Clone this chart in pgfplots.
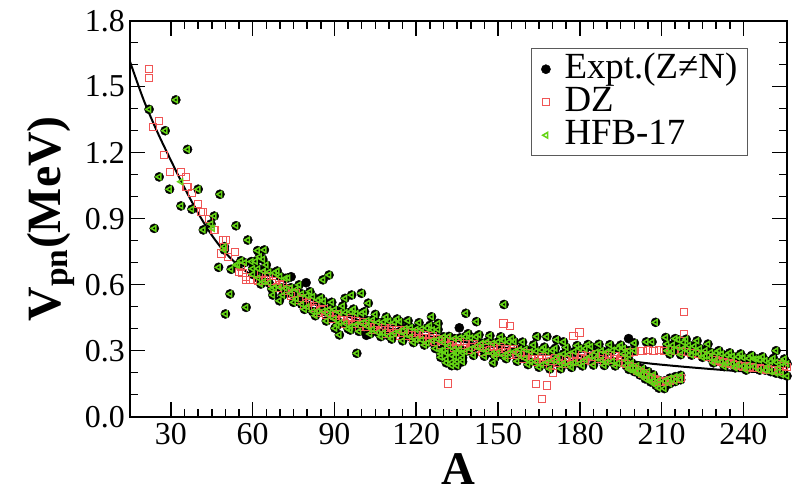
\documentclass[border=0pt]{standalone}
\usepackage{pgfplots}
\usepackage{pgfplotstable}
\pgfplotsset{compat=1.18}
\usepackage{fontspec}
\setmainfont{Liberation Serif}
\definecolor{dzred}{RGB}{240,85,85}
\definecolor{hfbgreen}{RGB}{100,212,20}

% band of experimental points (A, upper member, lower member)
\pgfplotstableread{
A hi lo
60 0.673 0.647
61 0.691 0.623
62 0.673 0.631
63 0.681 0.631
64 0.661 0.614
65 0.680 0.635
66 0.658 0.608
67 0.639 0.613
68 0.654 0.586
69 0.633 0.591
70 0.638 0.588
71 0.614 0.567
72 0.629 0.584
73 0.606 0.556
74 0.586 0.560
75 0.600 0.532
76 0.578 0.536
77 0.582 0.532
78 0.558 0.511
79 0.573 0.528
80 0.550 0.500
81 0.531 0.505
82 0.546 0.478
83 0.525 0.483
84 0.530 0.480
85 0.507 0.460
86 0.525 0.480
87 0.505 0.455
88 0.488 0.462
89 0.505 0.437
90 0.486 0.444
91 0.494 0.444
92 0.474 0.427
93 0.493 0.448
94 0.474 0.424
95 0.458 0.432
96 0.477 0.409
97 0.460 0.418
98 0.469 0.419
99 0.450 0.403
100 0.470 0.425
101 0.452 0.402
102 0.437 0.411
103 0.456 0.388
104 0.439 0.397
105 0.448 0.398
106 0.429 0.382
107 0.449 0.404
108 0.431 0.381
109 0.416 0.390
110 0.435 0.367
111 0.419 0.377
112 0.429 0.379
113 0.411 0.364
114 0.432 0.387
115 0.415 0.365
116 0.401 0.375
117 0.421 0.353
118 0.405 0.363
119 0.415 0.365
120 0.397 0.350
121 0.417 0.372
122 0.399 0.349
123 0.384 0.358
124 0.403 0.335
125 0.386 0.344
126 0.395 0.345
127 0.376 0.329
128 0.396 0.351
129 0.378 0.328
130 0.363 0.337
131 0.382 0.314
132 0.365 0.323
133 0.374 0.324
134 0.355 0.308
135 0.375 0.330
136 0.358 0.308
137 0.344 0.318
138 0.364 0.296
139 0.348 0.306
140 0.358 0.308
141 0.341 0.294
142 0.363 0.318
143 0.347 0.297
144 0.334 0.308
145 0.355 0.287
146 0.340 0.298
147 0.351 0.301
148 0.334 0.287
149 0.356 0.311
150 0.340 0.290
151 0.326 0.300
152 0.346 0.278
153 0.330 0.288
154 0.340 0.290
155 0.322 0.275
156 0.341 0.296
157 0.322 0.272
158 0.306 0.280
159 0.324 0.256
160 0.306 0.264
161 0.315 0.265
162 0.296 0.249
163 0.316 0.271
164 0.298 0.248
165 0.283 0.257
166 0.303 0.235
167 0.287 0.245
168 0.297 0.247
169 0.279 0.232
170 0.300 0.255
171 0.286 0.236
172 0.275 0.249
173 0.298 0.230
174 0.285 0.243
175 0.298 0.248
176 0.284 0.237
177 0.309 0.264
178 0.296 0.246
179 0.286 0.260
180 0.310 0.242
181 0.297 0.255
182 0.310 0.260
183 0.295 0.248
184 0.319 0.274
185 0.305 0.255
186 0.293 0.267
187 0.314 0.246
188 0.300 0.258
189 0.311 0.261
190 0.295 0.248
191 0.317 0.272
192 0.302 0.252
193 0.289 0.263
194 0.311 0.243
195 0.296 0.254
196 0.310 0.285
197 0.325 0.290
198 0.300 0.280
199 0.320 0.292
200 0.335 0.300
201 0.318 0.295
212 0.330 0.300
213 0.345 0.310
214 0.325 0.298
215 0.340 0.305
216 0.350 0.315
217 0.330 0.300
218 0.338 0.310
219 0.345 0.305
220 0.325 0.298
221 0.335 0.300
222 0.320 0.292
223 0.328 0.295
224 0.310 0.285
225 0.318 0.288
226 0.300 0.275
227 0.305 0.278
228 0.292 0.268
229 0.285 0.262
230 0.290 0.258
231 0.280 0.255
232 0.285 0.250
233 0.276 0.248
234 0.280 0.245
235 0.270 0.243
236 0.275 0.240
237 0.268 0.238
238 0.272 0.236
239 0.262 0.233
240 0.268 0.230
241 0.260 0.228
242 0.265 0.232
243 0.258 0.225
244 0.262 0.228
245 0.255 0.215
246 0.258 0.212
247 0.250 0.208
248 0.255 0.212
249 0.248 0.205
250 0.252 0.205
251 0.245 0.200
252 0.248 0.198
253 0.240 0.195
254 0.245 0.192
255 0.238 0.190
256 0.240 0.185
196 0.262 0.240
197 0.255 0.232
198 0.250 0.228
199 0.245 0.222
200 0.238 0.215
201 0.232 0.208
202 0.225 0.200
203 0.218 0.192
204 0.210 0.185
205 0.205 0.178
206 0.198 0.170
207 0.190 0.162
208 0.182 0.155
209 0.165 0.130
210 0.160 0.122
211 0.162 0.128
212 0.172 0.145
213 0.175 0.150
214 0.180 0.155
215 0.182 0.160
216 0.185 0.165
217 0.188 0.168
128 0.300 0.285
129 0.285 0.270
130 0.275 0.258
131 0.262 0.245
132 0.255 0.238
133 0.248 0.232
134 0.245 0.228
135 0.250 0.232
136 0.258 0.240
137 0.268 0.250
}\band

% isolated experimental points and outer members of the band (also covered by HFB-17)
\pgfplotstableread{
A V
22.0 1.397
31.8 1.440
27.9 1.300
25.7 1.090
29.5 1.034
36.1 1.215
40.0 1.034
33.7 0.958
37.7 0.943
48.0 1.011
23.9 0.856
45.9 0.912
41.9 0.849
44.7 0.876
53.9 0.868
58.2 0.803
49.6 0.773
49.6 0.758
61.8 0.755
63.7 0.716
55.7 0.709
47.5 0.679
52.1 0.670
54.5 0.690
57.0 0.700
59.5 0.705
62.5 0.727
64.3 0.758
51.7 0.558
57.6 0.497
50.0 0.467
67.4 0.553
69.8 0.527
85.8 0.622
88.0 0.644
93.9 0.538
96.3 0.553
99.9 0.561
102.4 0.516
90.2 0.402
91.8 0.372
95.8 0.394
98.2 0.288
125.6 0.454
128.0 0.424
138.2 0.470
142.1 0.432
152.2 0.510
148.3 0.245
164.2 0.364
167.9 0.364
171.5 0.350
174.0 0.340
207.8 0.429
211.5 0.360
252.0 0.300
204.4 0.340
206.5 0.340
61 0.706
63 0.603
65 0.690
67 0.581
69 0.662
71 0.552
73 0.631
75 0.520
77 0.599
79 0.488
81 0.568
83 0.459
85 0.540
87 0.435
89 0.520
91 0.416
93 0.503
95 0.400
97 0.489
99 0.388
101 0.477
103 0.376
105 0.465
107 0.364
109 0.453
111 0.353
113 0.444
115 0.345
117 0.436
119 0.337
121 0.427
123 0.326
125 0.415
127 0.310
129 0.300
130 0.302
131 0.290
133 0.280
134 0.272
135 0.290
137 0.290
139 0.377
141 0.279
143 0.372
145 0.275
147 0.368
149 0.271
151 0.363
153 0.264
155 0.355
157 0.252
159 0.339
161 0.237
163 0.326
165 0.225
167 0.316
169 0.217
171 0.311
173 0.218
175 0.315
177 0.224
179 0.323
181 0.231
183 0.328
185 0.235
187 0.329
189 0.233
191 0.327
193 0.231
195 0.325
198 0.215
200 0.205
202 0.190
204 0.172
206 0.158
208 0.142
213 0.285
215 0.355
217 0.282
219 0.352
221 0.280
223 0.345
225 0.270
227 0.330
229 0.245
231 0.300
233 0.228
235 0.290
237 0.222
239 0.285
241 0.212
243 0.278
245 0.262
247 0.272
249 0.228
251 0.265
253 0.222
255 0.262
}\single

\pgfplotstableread{
A V
74.1 0.636
79.6 0.609
135.8 0.404
197.9 0.355
250.0 0.250
255.8 0.245
101.7 0.370
}\exptonly

\pgfplotstableread{
A V
33.7 1.068
45.3 0.856
53.9 0.690
}\hfbonly

\pgfplotstableread{
A V
22.0 1.580
22.0 1.540
25.7 1.345
23.5 1.315
27.5 1.190
29.6 1.114
33.7 1.114
35.5 1.090
36.1 1.045
35.7 1.043
37.7 1.015
39.8 0.967
41.0 0.932
41.9 0.932
44.1 0.900
45.9 0.850
46.3 0.848
48.6 0.742
51.0 0.727
49.2 0.803
50.2 0.803
49.6 0.773
53.6 0.750
55.7 0.682
55.1 0.659
56.3 0.652
57.6 0.636
57.6 0.621
59.0 0.621
60.0 0.621
61.9 0.618
63 0.647
64 0.619
65 0.633
66 0.638
67 0.609
68 0.618
69 0.587
70 0.598
71 0.602
72 0.572
73 0.580
74 0.548
75 0.558
76 0.562
77 0.532
78 0.540
79 0.508
80 0.518
81 0.523
82 0.494
83 0.503
84 0.472
85 0.483
86 0.490
87 0.463
88 0.474
89 0.445
90 0.458
91 0.466
92 0.440
93 0.452
94 0.424
95 0.438
96 0.447
97 0.422
98 0.435
99 0.408
100 0.423
101 0.432
102 0.407
103 0.420
104 0.393
105 0.408
106 0.417
107 0.392
108 0.405
109 0.378
110 0.393
111 0.403
112 0.379
113 0.393
114 0.367
115 0.383
116 0.393
117 0.369
118 0.383
119 0.357
120 0.373
121 0.382
122 0.357
123 0.370
124 0.343
125 0.358
126 0.367
127 0.342
128 0.355
129 0.328
130 0.343
131 0.352
132 0.327
133 0.340
134 0.313
135 0.328
136 0.338
137 0.314
138 0.328
139 0.302
140 0.318
141 0.329
142 0.306
143 0.321
144 0.296
145 0.313
146 0.324
147 0.301
148 0.316
149 0.291
150 0.308
151 0.318
152 0.294
153 0.308
154 0.282
155 0.298
156 0.306
157 0.280
158 0.292
159 0.264
160 0.278
161 0.287
162 0.262
163 0.275
164 0.248
165 0.263
166 0.273
167 0.249
168 0.263
169 0.237
170 0.253
171 0.266
172 0.245
173 0.262
174 0.239
175 0.258
176 0.272
177 0.252
178 0.270
179 0.248
180 0.268
181 0.281
182 0.260
183 0.277
184 0.254
185 0.273
186 0.285
187 0.262
188 0.278
189 0.253
190 0.271
191 0.282
192 0.260
193 0.275
194 0.251
195 0.268
196 0.245
197 0.238
198 0.232
199 0.226
200 0.218
201 0.210
202 0.204
203 0.196
204 0.188
205 0.182
206 0.176
207 0.170
208 0.165
209 0.160
210 0.158
211 0.160
212 0.162
213 0.165
214 0.168
215 0.170
216 0.172
217 0.175
196 0.290
198 0.292
200 0.295
202 0.298
203 0.300
205 0.302
207 0.300
209 0.305
211 0.300
213 0.305
215 0.300
217 0.298
219 0.295
221 0.290
223 0.285
225 0.280
227 0.272
229 0.265
230 0.258
231 0.255
232 0.250
233 0.248
234 0.244
235 0.242
236 0.238
237 0.236
238 0.233
239 0.232
240 0.228
241 0.228
242 0.225
243 0.224
244 0.222
245 0.220
246 0.222
247 0.218
248 0.215
249 0.215
250 0.212
251 0.214
252 0.210
253 0.208
254 0.240
255 0.232
256 0.225
131.7 0.151
164.0 0.147
167.9 0.142
166.0 0.079
179.9 0.383
177.7 0.366
218.1 0.477
218.1 0.376
152.0 0.424
154.4 0.412
170.3 0.197
}\dz

\pgfplotstableread{
A V
15 1.614
20 1.440
25 1.295
30 1.165
35 1.040
40 0.925
45 0.825
50 0.745
55 0.685
60 0.640
65 0.606
70 0.580
80 0.525
90 0.475
100 0.435
110 0.402
120 0.375
128.6 0.358
140 0.335
150 0.318
160 0.302
170 0.288
180 0.275
190 0.262
200 0.250
207 0.240
220 0.225
235 0.210
245 0.203
256 0.197
}\curve

\pgfplotsset{
  exptst/.style={only marks, mark=*, mark size=4.6bp, color=black, mark options={fill=black, draw=black, line width=0.4bp}},
  dzst/.style={only marks, mark=square, mark size=3.6bp, color=dzred, mark options={line width=1bp}},
  hfbst/.style={only marks, mark=triangle, mark size=3.2bp, color=hfbgreen, mark options={rotate=90, line width=1.5bp}},
}

\begin{document}
\begin{tikzpicture}
\begin{axis}[
  name=ax,
  scale only axis,
  width=657bp, height=396bp,
  xmin=15, xmax=256, ymin=0, ymax=1.8,
  xtick={30,60,90,120,150,180,210,240},
  ytick={0,0.3,0.6,0.9,1.2,1.5,1.8},
  minor x tick num=5,
  minor y tick num=2,
  tick align=inside,
  major tick length=15bp,
  minor tick length=8bp,
  axis line style={line width=2bp},
  every tick/.style={line width=1.5bp, black},
  /pgf/number format/assume math mode=true,
  tick label style={font=\fontsize{32}{32}\selectfont, inner sep=0pt},
  yticklabel style={xshift=-5bp, /pgf/number format/.cd, fixed, fixed zerofill, precision=1},
  xticklabel style={yshift=-6bp},
  xlabel={\bfseries A},
  ylabel={\bfseries V\textsubscript{pn}(MeV)},
  xlabel style={font=\fontsize{47}{47}\selectfont, inner sep=0pt, at={(axis description cs:0.5,-0.093)}, anchor=north},
  ylabel style={font=\fontsize{48}{48}\selectfont, inner sep=0pt, at={(axis description cs:-0.084,0.5)}, anchor=south},
  legend style={at={(0.9406,0.931)}, anchor=north east, draw={rgb,255:red,90;green,90;blue,90}, line width=1.4bp,
    font=\fontsize{37}{37}\selectfont, inner xsep=10bp, inner ysep=4bp,
    nodes={inner sep=0pt, text height=26bp, text depth=7bp},
    column sep=14bp},
  legend cell align=left,
  legend image code/.code={\draw[#1] plot coordinates {(0bp,0bp)};},
]
\addplot[black, line width=2bp, smooth, forget plot] table[x=A,y=V] {\curve};
\addplot[exptst, each nth point=2] table[x=A,y=hi] {\band};
\addplot[exptst, forget plot, each nth point=2] table[x=A,y=lo] {\band};
\addplot[exptst, forget plot] table[x=A,y=V] {\single};
\addplot[exptst, forget plot] table[x=A,y=V] {\exptonly};
\addplot[dzst] table[x=A,y=V] {\dz};
\addplot[hfbst, each nth point=2] table[x=A,y=hi] {\band};
\addplot[hfbst, forget plot, each nth point=2] table[x=A,y=lo] {\band};
\addplot[hfbst, forget plot] table[x=A,y=V] {\single};
\addplot[hfbst, forget plot] table[x=A,y=V] {\hfbonly};
\legend{Expt.(Z≠N), DZ, HFB-17}
\end{axis}
\path ([xshift=-130bp,yshift=-77.3bp]ax.south west) rectangle ++(792bp,494bp);
\end{tikzpicture}
\end{document}
